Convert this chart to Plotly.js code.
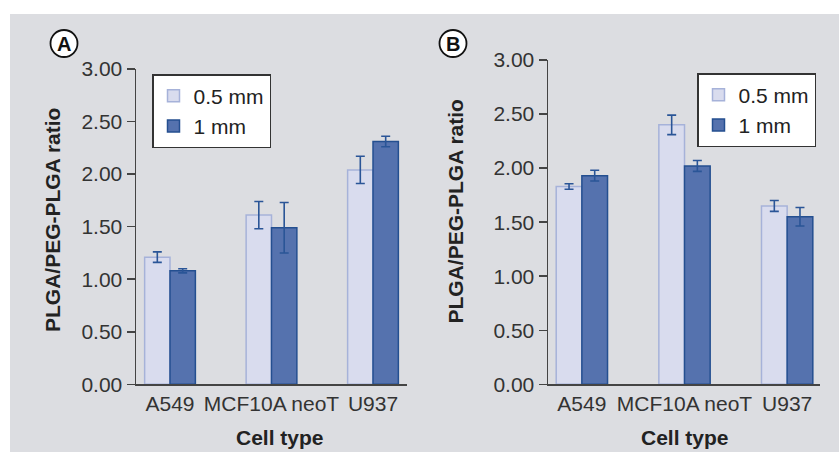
<!DOCTYPE html>
<html>
<head>
<meta charset="utf-8">
<script src="https://cdn.plot.ly/plotly-3.0.1.min.js"></script>
<style>html,body{margin:0;padding:0;background:#fff;}#chart{width:839px;height:452px;}</style>
</head>
<body>
<div id="chart"></div>
<script>
// ---- data ----
const categories = ["A549", "MCF10A neoT", "U937"];
const seriesNames = ["0.5 mm", "1 mm"];
// Panel A
const a_small = [1.21, 1.61, 2.04];
const a_small_err = [0.05, 0.13, 0.13];
const a_large = [1.08, 1.49, 2.31];
const a_large_err = [0.02, 0.24, 0.05];
// Panel B
const b_small = [1.83, 2.40, 1.65];
const b_small_err = [0.025, 0.09, 0.05];
const b_large = [1.93, 2.02, 1.55];
const b_large_err = [0.05, 0.05, 0.085];
const yTickVals = [0, 0.5, 1, 1.5, 2, 2.5, 3];
const yTickText = ["0.00", "0.50", "1.00", "1.50", "2.00", "2.50", "3.00"];

// ---- styles ----
const W = 839, H = 452;
const px = v => v / W;
const py = v => 1 - v / H;
const lightFill = "#d9dcee", lightLine = "#a6b2d9";
const darkFill = "#5572ae", darkLine = "#244f90";
const errColor = "#2a5597";
const FONT = "Liberation Sans, Arial, Helvetica, sans-serif";
const tickFont = {family: FONT, size: 21, color: "#333"};

function barTrace(x, y, err, name, fill, line, xa, ya, legend, show) {
  return {
    type: "bar", x: x, y: y, name: name,
    xaxis: xa, yaxis: ya, legend: legend, showlegend: show,
    marker: {color: fill, line: {color: line, width: 1.5}},
    error_y: {type: "data", array: err, visible: true, color: errColor, thickness: 1.6, width: 4.5}
  };
}

const data = [
  barTrace(categories, a_small, a_small_err, seriesNames[0], lightFill, lightLine, "x", "y", "legend", true),
  barTrace(categories, a_large, a_large_err, seriesNames[1], darkFill, darkLine, "x", "y", "legend", true),
  barTrace(categories, b_small, b_small_err, seriesNames[0], lightFill, lightLine, "x2", "y2", "legend2", true),
  barTrace(categories, b_large, b_large_err, seriesNames[1], darkFill, darkLine, "x2", "y2", "legend2", true)
];

function xAxis(domain, range, anchor) {
  return {
    domain: domain, range: range, anchor: anchor, type: "category",
    showline: true, linecolor: "#444", linewidth: 1.5,
    ticks: "", showgrid: false, zeroline: false, tickangle: 0,
    tickfont: tickFont, fixedrange: true
  };
}
function yAxis(domain, anchor) {
  return {
    domain: domain, range: [0, 3], anchor: anchor,
    tickvals: yTickVals, ticktext: yTickText,
    showline: true, linecolor: "#444", linewidth: 1.5,
    ticks: "outside", ticklen: 8, tickcolor: "#444", tickwidth: 1.5,
    showgrid: false, zeroline: false, tickfont: tickFont, fixedrange: true
  };
}

const legendStyle = (x, y) => ({
  x: x, y: y, xref: "paper", yref: "paper", xanchor: "left", yanchor: "top",
  bgcolor: "#ffffff", bordercolor: "#333", borderwidth: 1.5,
  font: {family: FONT, size: 21, color: "#222"}, traceorder: "normal",
  itemwidth: 30, tracegroupgap: 0
});

const titleFont = {family: FONT, size: 21, color: "#222", weight: "bold"};

const layout = {
  width: W, height: H,
  margin: {l: 0, r: 0, t: 0, b: 0},
  paper_bgcolor: "#ffffff", plot_bgcolor: "#ffffff",
  barmode: "group", bargap: 0.5, bargroupgap: 0,
  xaxis: xAxis([px(136), px(407)], [-0.335, 2.335], "y"),
  yaxis: yAxis([py(384.3), py(69)], "x"),
  xaxis2: xAxis([px(548), px(820)], [-0.33, 2.32], "y2"),
  yaxis2: yAxis([py(384.3), py(60)], "x2"),
  legend: legendStyle(px(152), py(74)),
  legend2: legendStyle(px(697), py(73)),
  shapes: [
    {type: "rect", xref: "paper", yref: "paper", x0: px(10), x1: 1, y0: 0, y1: py(14),
     fillcolor: "#dcdde1", line: {width: 0}, layer: "below"},
    {type: "circle", xref: "paper", yref: "paper", x0: px(50.5), x1: px(77.5), y0: py(57), y1: py(30),
     fillcolor: "#ffffff", line: {color: "#111", width: 1.8}},
    {type: "circle", xref: "paper", yref: "paper", x0: px(439.5), x1: px(466.5), y0: py(57), y1: py(30),
     fillcolor: "#ffffff", line: {color: "#111", width: 1.8}}
  ],
  annotations: [
    {text: "A", xref: "paper", yref: "paper", x: px(64), y: py(43.5), showarrow: false,
     xanchor: "center", yanchor: "middle", font: {family: FONT, size: 20, color: "#111", weight: "bold"}},
    {text: "B", xref: "paper", yref: "paper", x: px(453), y: py(43.5), showarrow: false,
     xanchor: "center", yanchor: "middle", font: {family: FONT, size: 20, color: "#111", weight: "bold"}},
    {text: "PLGA/PEG-PLGA ratio", xref: "paper", yref: "paper", x: px(52), y: py(220), textangle: -90,
     showarrow: false, xanchor: "center", yanchor: "middle", font: titleFont},
    {text: "PLGA/PEG-PLGA ratio", xref: "paper", yref: "paper", x: px(455), y: py(211.5), textangle: -90,
     showarrow: false, xanchor: "center", yanchor: "middle", font: titleFont},
    {text: "Cell type", xref: "paper", yref: "paper", x: px(280), y: py(437), showarrow: false,
     xanchor: "center", yanchor: "middle", font: titleFont},
    {text: "Cell type", xref: "paper", yref: "paper", x: px(685), y: py(437), showarrow: false,
     xanchor: "center", yanchor: "middle", font: titleFont}
  ]
};

Plotly.newPlot("chart", data, layout, {displayModeBar: false, staticPlot: true});
</script>
</body>
</html>
